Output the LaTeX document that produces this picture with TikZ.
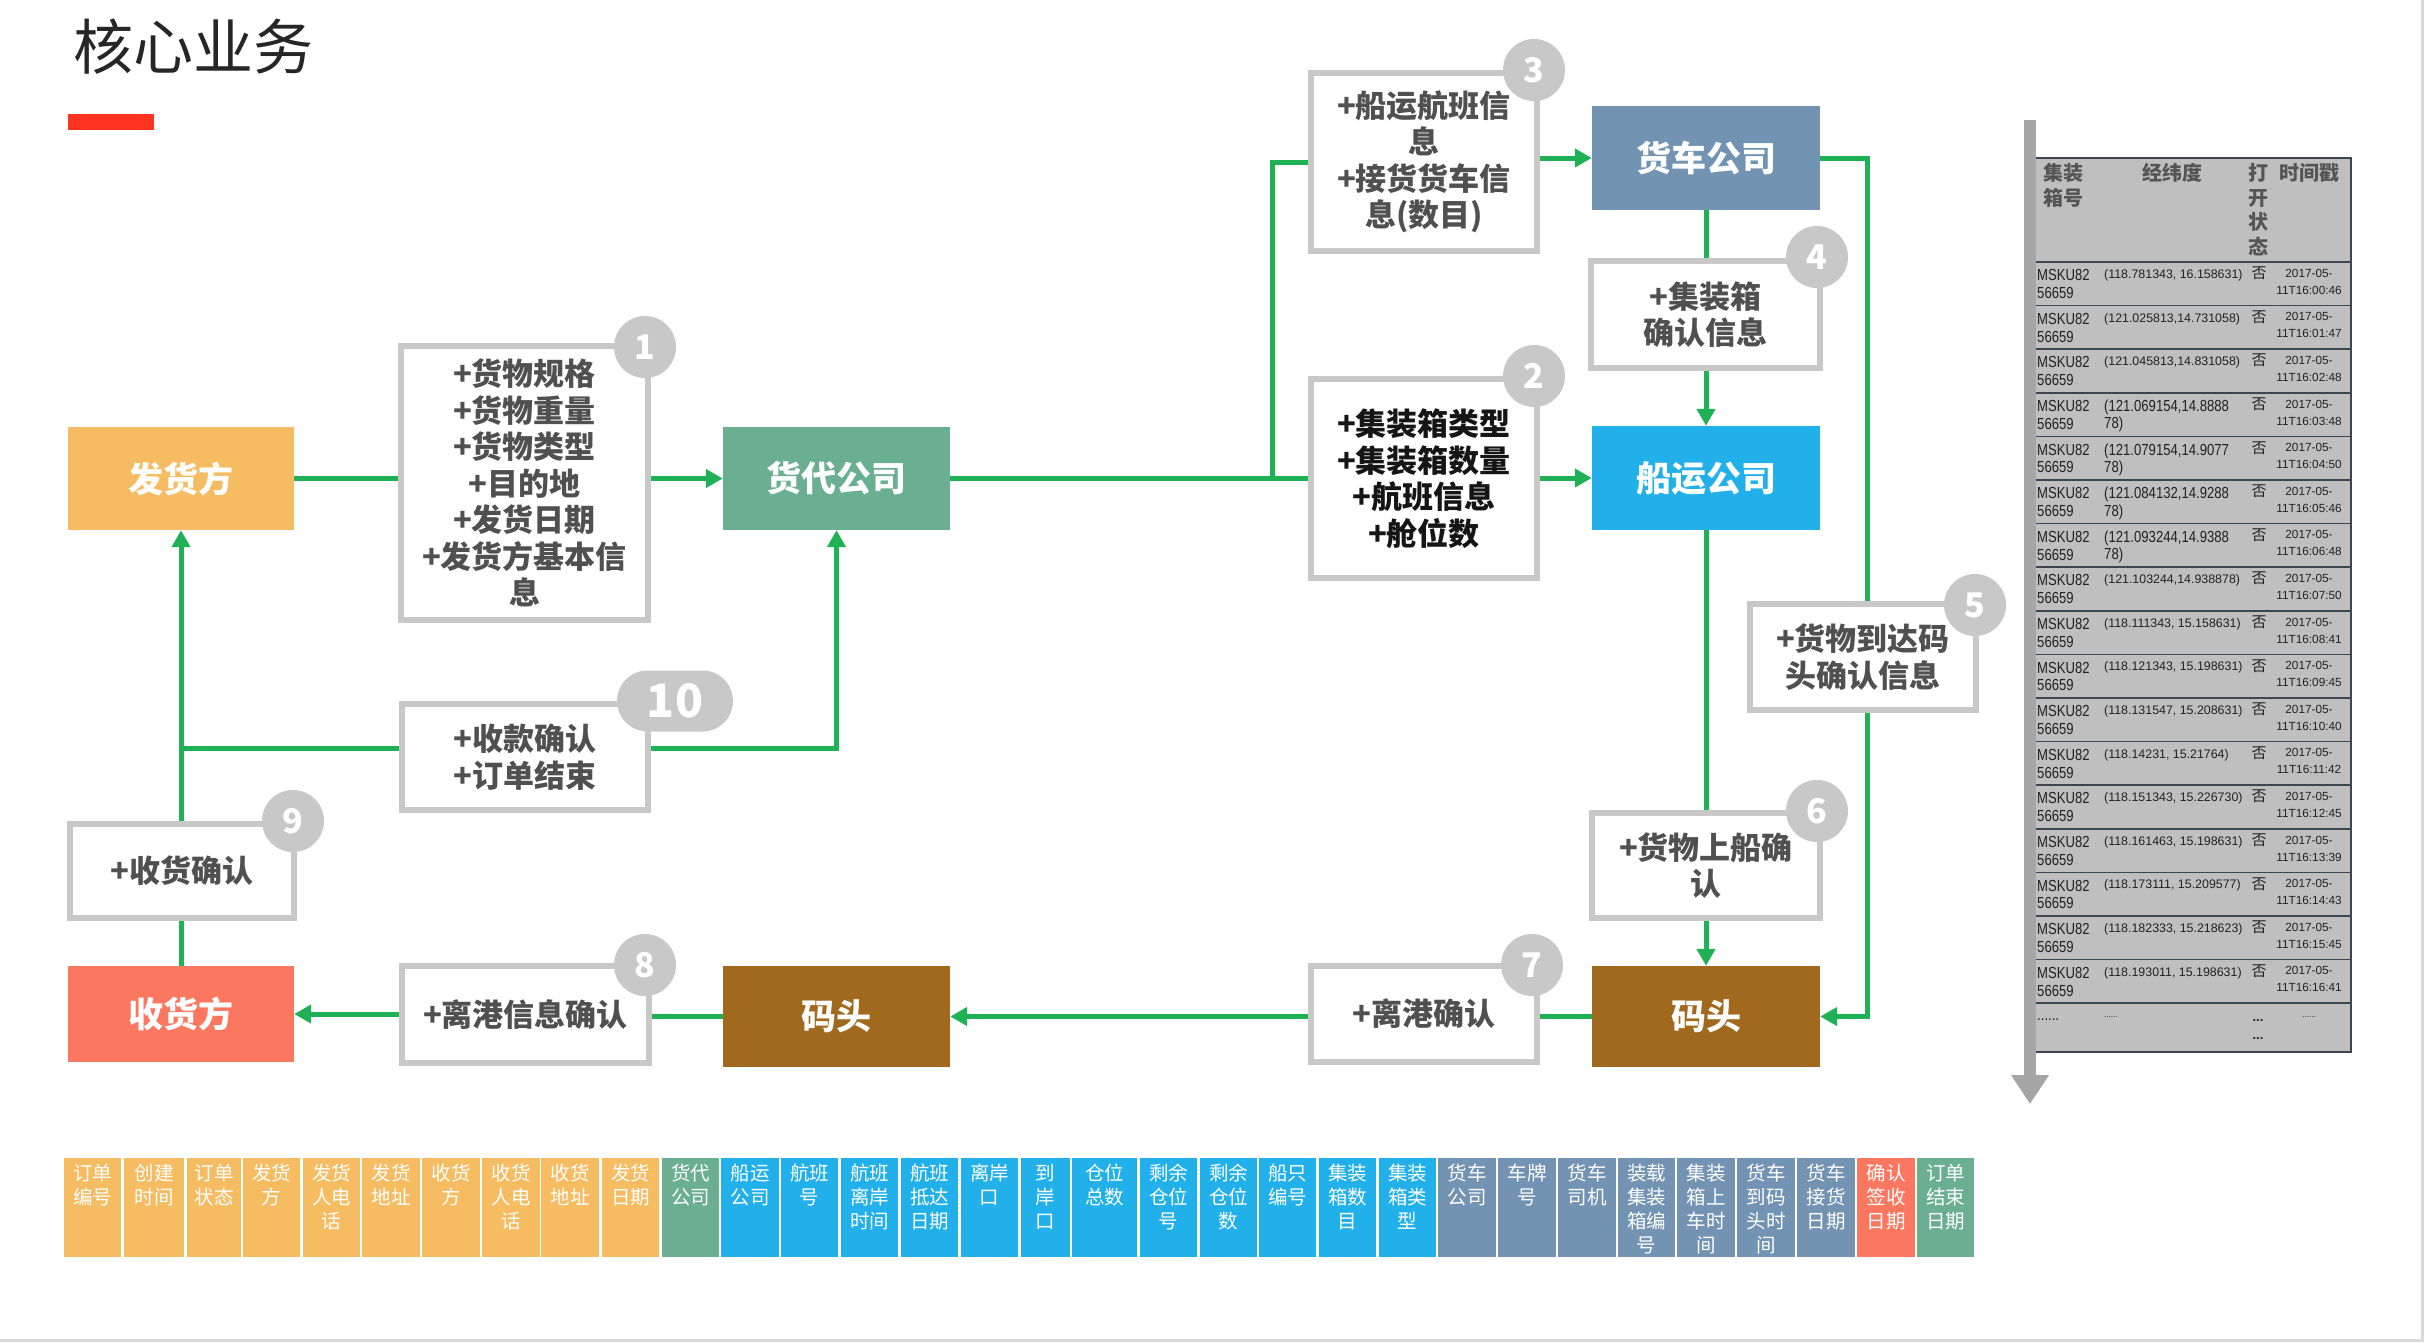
\documentclass[tikz,border=0pt]{standalone}
\usepackage{fontspec}
\setmainfont{Noto Sans CJK SC}
\newfontfamily\latinf{Liberation Sans}
\newfontfamily\narrowf{Liberation Sans}[FakeStretch=0.82]
\usetikzlibrary{arrows.meta,calc}
\definecolor{corange}{HTML}{F6BC62}
\definecolor{cgreen}{HTML}{6BAF92}
\definecolor{cblue}{HTML}{22B0EA}
\definecolor{csteel}{HTML}{7393B3}
\definecolor{csalmon}{HTML}{FC7760}
\definecolor{cbrown}{HTML}{A0691E}
\definecolor{flow}{HTML}{1EB155}
\definecolor{bgray}{HTML}{C8C8C8}
\definecolor{tgray}{HTML}{505050}
\definecolor{tblack}{HTML}{151515}
\definecolor{titlec}{HTML}{262626}
\definecolor{tred}{HTML}{FF3322}
\definecolor{tabfill}{HTML}{BFBFBF}
\definecolor{tabline}{HTML}{3C4550}
\definecolor{barc}{HTML}{A6A6A6}
\definecolor{edgec}{HTML}{D9D9D9}
\definecolor{tabtext}{HTML}{222222}
\definecolor{headc}{HTML}{555555}
\pgfdeclarelayer{bg}
\pgfsetlayers{bg,main}
\tikzset{
  cbox/.style={rectangle, inner sep=0pt, text=white, font=\bfseries\fontsize{35}{40}\selectfont},
  ibox/.style={rectangle, draw=bgray, line width=6pt, fill=white, align=center, inner sep=0pt, text=tgray, font=\bfseries\fontsize{31}{36.5}\selectfont},
  badge/.style={circle, fill=bgray, minimum size=62pt, inner sep=0pt, text=white, font=\bfseries\fontsize{34}{36}\selectfont},
  badgewide/.style={rectangle, rounded corners=30.5pt, fill=bgray, minimum width=116pt, minimum height=61pt, inner sep=0pt, text=white, font=\bfseries\fontsize{46}{48}\selectfont},
  conn/.style={draw=flow, line width=5pt},
  arr/.style={conn, -{Triangle[length=17pt,width=18pt]}},
  celltxt/.style={align=center, inner sep=0pt, text=white, font=\fontsize{19.5}{24}\selectfont},
  msku/.style={inner sep=0pt, text=tabtext, font=\narrowf\fontsize{16}{18}\selectfont},
  smallco/.style={inner sep=0pt, text=tabtext, font=\latinf\fontsize{12.4}{14}\selectfont},
  tstamp/.style={inner sep=0pt, text=tabtext, font=\latinf\fontsize{11.8}{14}\selectfont},
  fou/.style={inner sep=0pt, text=tabtext, font=\fontsize{15}{17}\selectfont},
  headtxt/.style={inner sep=0pt, text=headc, font=\bfseries\fontsize{20}{24.5}\selectfont},
}
\begin{document}
\begin{tikzpicture}[x=1pt,y=-1pt]
\useasboundingbox (0,0) rectangle (2424,1342);
\begin{pgfonlayer}{bg}
\fill[white] (0,0) rectangle (2424,1342);
\end{pgfonlayer}
\draw[edgec, line width=3pt] (2422.5,0) -- (2422.5,1340.5) -- (0,1340.5);

% title
\node[anchor=west, inner sep=0pt, text=titlec, font=\fontsize{60}{64}\selectfont] (title) at (73,47) {核心业务};
\node[fill=tred, minimum width=86pt, minimum height=16pt, inner sep=0pt] (redbar) at (111,122) {};

% coloured boxes
\node[cbox, fill=corange, minimum width=226pt, minimum height=103pt] (fahuo) at (181,478.5) {发货方};
\node[cbox, fill=cgreen, minimum width=227pt, minimum height=103pt] (huodai) at (836.5,478.5) {货代公司};
\node[cbox, fill=csteel, minimum width=228pt, minimum height=104pt] (huoche) at (1706,158) {货车公司};
\node[cbox, fill=cblue, minimum width=228pt, minimum height=104pt] (chuanyun) at (1706,478) {船运公司};
\node[cbox, fill=cbrown, minimum width=228pt, minimum height=101pt] (matouR) at (1706,1016.5) {码头};
\node[cbox, fill=cbrown, minimum width=227pt, minimum height=101pt] (matouL) at (836.5,1016.5) {码头};
\node[cbox, fill=csalmon, minimum width=226pt, minimum height=96pt] (shouhuo) at (181,1014) {收货方};

% info boxes
\node[ibox, minimum width=247pt, minimum height=274pt] (box1) at (524.5,483) {+货物规格\\+货物重量\\+货物类型\\+目的地\\+发货日期\\+发货方基本信\\息};
\node[ibox, minimum width=226pt, minimum height=178pt] (box3) at (1424,162) {+船运航班信\\息\\+接货货车信\\息(数目)};
\node[ibox, minimum width=229pt, minimum height=107pt] (box4) at (1705.5,314.5) {+集装箱\\确认信息};
\node[ibox, text=tblack, minimum width=226pt, minimum height=199pt] (box2) at (1424,478.5) {+集装箱类型\\+集装箱数量\\+航班信息\\+舱位数};
\node[ibox, minimum width=226pt, minimum height=106pt] (box5) at (1863,657) {+货物到达码\\头确认信息};
\node[ibox, minimum width=228pt, minimum height=105pt] (box6) at (1706,865.5) {+货物上船确\\认};
\node[ibox, minimum width=226pt, minimum height=96pt] (box7) at (1424,1014) {+离港确认};
\node[ibox, minimum width=247pt, minimum height=97pt] (box8) at (525.5,1014.5) {+离港信息确认};
\node[ibox, minimum width=224pt, minimum height=94pt] (box9) at (182,871) {+收货确认};
\node[ibox, minimum width=246pt, minimum height=106pt] (box10) at (525,757) {+收款确认\\+订单结束};

% connectors
\coordinate (br) at (1272,478.5);
\coordinate (jl) at (181,748);
\coordinate (r5top) at ($(box5.north)+(4,0)$);
\coordinate (r5bot) at ($(box5.south)+(4,0)$);
\begin{pgfonlayer}{bg}
\draw[conn] (fahuo.east) -- (fahuo.east -| box1.west);
\draw[arr] (huodai.west -| box1.east) -- (huodai.west);
\draw[conn] (huodai.east) -- (huodai.east -| box2.west);
\draw[conn] (br) |- (box3.west);
\draw[arr] (huoche.west -| box3.east) -- (huoche.west);
\draw[arr] (chuanyun.west -| box2.east) -- (chuanyun.west);
\draw[conn] (huoche.south) -- (huoche.south |- box4.north);
\draw[arr] (chuanyun.north |- box4.south) -- (chuanyun.north);
\draw[conn] (huoche.east) -| (r5top);
\draw[arr] (r5bot) |- (matouR.east);
\draw[conn] (chuanyun.south) -- (chuanyun.south |- box6.north);
\draw[arr] (matouR.north |- box6.south) -- (matouR.north);
\draw[conn] (matouR.west) -- (matouR.west -| box7.east);
\draw[arr] (matouL.east -| box7.west) -- (matouL.east);
\draw[conn] (matouL.west) -- (matouL.west -| box8.east);
\draw[arr] (shouhuo.east -| box8.west) -- (shouhuo.east);
\draw[conn] (shouhuo.north) -- (shouhuo.north |- box9.south);
\draw[arr] (fahuo.south |- box9.north) -- (fahuo.south);
\draw[conn] (jl) -- (jl -| box10.west);
\draw[arr] (jl -| box10.east) -| (huodai.south);
\end{pgfonlayer}

% badges
\node[badge] (n1) at (645,347) {1};
\node[badge] (n2) at (1534,376) {2};
\node[badge] (n3) at (1534,70) {3};
\node[badge] (n4) at (1817,257) {4};
\node[badge] (n5) at (1975,605) {5};
\node[badge] (n6) at (1817,811) {6};
\node[badge] (n7) at (1532,965) {7};
\node[badge] (n8) at (645,965) {8};
\node[badge] (n9) at (293,821) {9};
\node[badgewide] (n10) at (675,701) {10};

% table arrow bar
\coordinate (bartop) at (2030,120);
\coordinate (barend) at (2030,1104);
\draw[barc, line width=12pt, -{Triangle[length=29pt,width=36pt]}] (bartop) -- (barend);

% table
\node[fill=tabfill, minimum width=315pt, minimum height=894pt, inner sep=0pt] (tab) at (2193.5,605) {};
\draw[tabline, line width=1.6pt] (2036,158) -- (2351,158);
\draw[tabline, line width=1.6pt] (2036,262) -- (2351,262);
\foreach \k in {1,...,17}{
  \draw[tabline, line width=1.6pt] (2036,{262+43.6*\k}) -- (2351,{262+43.6*\k});
}
\draw[tabline, line width=1.6pt] (2036,1052) -- (2351,1052);
\draw[tabline, line width=2.2pt] (2351,157) -- (2351,1053);

% header
\node[headtxt, anchor=base west] (h1a) at (2043,180.6) {集装};
\node[headtxt, anchor=base west] (h1b) at (2043,205.6) {箱号};
\node[headtxt, anchor=base] (h2) at (2172,180.6) {经纬度};
\node[headtxt, anchor=base] (h3a) at (2258,180.6) {打};
\node[headtxt, anchor=base] (h3b) at (2258,205.6) {开};
\node[headtxt, anchor=base] (h3c) at (2258,229.6) {状};
\node[headtxt, anchor=base] (h3d) at (2258,254.6) {态};
\node[headtxt, anchor=base] (h4) at (2309,180.6) {时间戳};

% rows
\foreach \co/\ts/\bg [count=\i from 0] in {
 {(118.781343, 16.158631)}/00:46/0,
 {(121.025813,14.731058)}/01:47/0,
 {(121.045813,14.831058)}/02:48/0,
 {(121.069154,14.8888}/03:48/1,
 {(121.079154,14.9077}/04:50/1,
 {(121.084132,14.9288}/05:46/1,
 {(121.093244,14.9388}/06:48/1,
 {(121.103244,14.938878)}/07:50/0,
 {(118.111343, 15.158631)}/08:41/0,
 {(118.121343, 15.198631)}/09:45/0,
 {(118.131547, 15.208631)}/10:40/0,
 {(118.14231, 15.21764)}/11:42/0,
 {(118.151343, 15.226730)}/12:45/0,
 {(118.161463, 15.198631)}/13:39/0,
 {(118.173111, 15.209577)}/14:43/0,
 {(118.182333, 15.218623)}/15:45/0,
 {(118.193011, 15.198631)}/16:41/0}{
  \pgfmathsetmacro\ry{262+43.6*\i}
  \node[msku, anchor=base west] (ma\i) at (2037,{\ry+18.7}) {MSKU82};
  \node[msku, anchor=base west] (mb\i) at (2037,{\ry+36.5}) {56659};
  \ifnum\bg=1
    \node[msku, anchor=base west] (ca\i) at (2104,{\ry+18.7}) {\co};
    \node[msku, anchor=base west] (cb\i) at (2104,{\ry+36}) {78)};
  \else
    \node[smallco, anchor=base west] (ca\i) at (2104,{\ry+16.5}) {\co};
  \fi
  \node[fou, anchor=base] (f\i) at (2259,{\ry+16.7}) {否};
  \node[tstamp, anchor=base] (ta\i) at (2309,{\ry+15.2}) {2017-05-};
  \node[tstamp, anchor=base] (tb\i) at (2309,{\ry+32.2}) {11T16:\ts};
}
\node[msku, anchor=base west] (e1) at (2037,1020) {......};
\node[smallco, anchor=base west, font=\latinf\fontsize{8}{10}\selectfont] (e2) at (2104,1017) {......};
\node[msku, anchor=base, font=\latinf\bfseries\fontsize{13}{15}\selectfont] (e3) at (2258,1021) {...};
\node[msku, anchor=base, font=\latinf\bfseries\fontsize{13}{15}\selectfont] (e4) at (2258,1039) {...};
\node[smallco, anchor=base, font=\latinf\fontsize{8}{10}\selectfont] (e5) at (2309,1017) {......};

% bottom strip
\foreach \xa/\xb/\cc/\lbl [count=\i] in {
64/121/corange/{订单\\编号},
124/184/corange/{创建\\时间},
187/241/corange/{订单\\状态},
243/300/corange/{发货\\方},
303/360/corange/{发货\\人电\\话},
362/420/corange/{发货\\地址},
422/480/corange/{收货\\方},
482/540/corange/{收货\\人电\\话},
541/599/corange/{收货\\地址},
602/659/corange/{发货\\日期},
662/719/cgreen/{货代\\公司},
721/779/cblue/{船运\\公司},
781/838/cblue/{航班\\号},
841/898/cblue/{航班\\离岸\\时间},
901/958/cblue/{航班\\抵达\\日期},
961/1018/cblue/{离岸\\口},
1021/1070/cblue/{到\\岸\\口},
1072/1137/cblue/{仓位\\总数},
1140/1197/cblue/{剩余\\仓位\\号},
1200/1257/cblue/{剩余\\仓位\\数},
1259/1316/cblue/{船只\\编号},
1319/1376/cblue/{集装\\箱数\\目},
1379/1436/cblue/{集装\\箱类\\型},
1438/1496/csteel/{货车\\公司},
1498/1556/csteel/{车牌\\号},
1558/1616/csteel/{货车\\司机},
1618/1675/csteel/{装载\\集装\\箱编\\号},
1677/1735/csteel/{集装\\箱上\\车时\\间},
1737/1795/csteel/{货车\\到码\\头时\\间},
1797/1855/csteel/{货车\\接货\\日期},
1857/1915/csalmon/{确认\\签收\\日期},
1917/1974/cgreen/{订单\\结束\\日期}}{
  \pgfmathsetmacro\cx{(\xa+\xb)/2}
  \pgfmathsetmacro\cw{\xb-\xa}
  \node[fill=\cc, minimum width=\cw pt, minimum height=99pt, inner sep=0pt] (c\i) at (\cx,1207.5) {};
  \node[celltxt, anchor=north] (t\i) at (\cx,1164) {\lbl};
}
\end{tikzpicture}
\end{document}
